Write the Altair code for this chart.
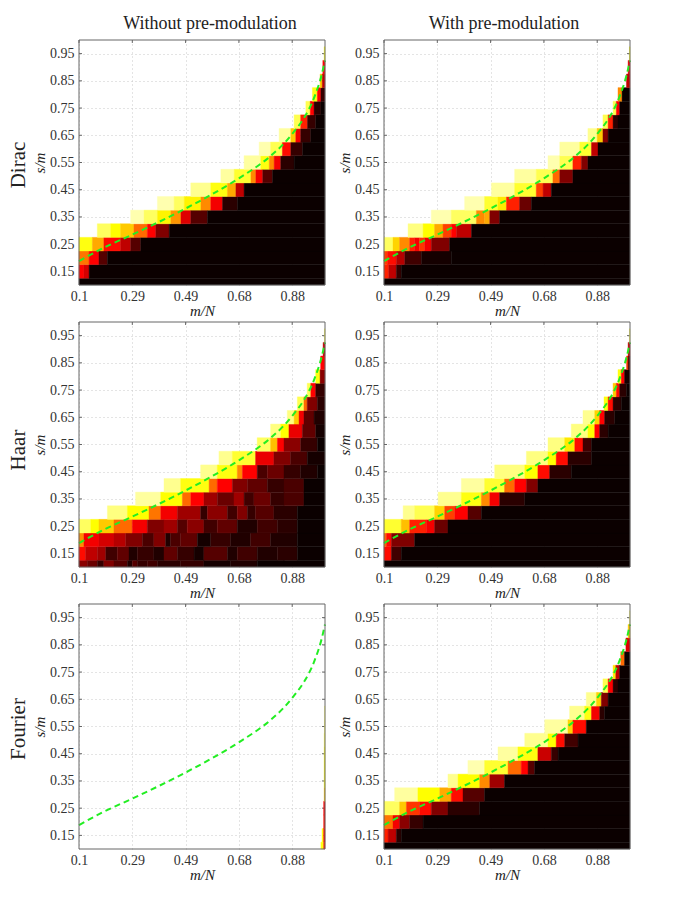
import altair as alt
import pandas as pd

ROW_CENTERS = [0.10, 0.15, 0.20, 0.25, 0.30, 0.35, 0.40, 0.45, 0.50, 0.55,
               0.60, 0.65, 0.70, 0.75, 0.80, 0.85, 0.90, 0.95]
X_TICKS = [0.1, 0.295, 0.49, 0.685, 0.88]
X_LABELS = ["0.1", "0.29", "0.49", "0.68", "0.88"]
Y_TICKS = [0.15, 0.25, 0.35, 0.45, 0.55, 0.65, 0.75, 0.85, 0.95]

CURVE_X = [0.10, 0.191, 0.295, 0.393, 0.490, 0.588, 0.685, 0.801, 0.850, 0.888, 0.924, 0.961, 0.988, 1.0]
CURVE_Y = [0.188, 0.237, 0.285, 0.332, 0.381, 0.434, 0.492, 0.574, 0.620, 0.665, 0.715, 0.790, 0.873, 0.925]

# each row: (start m/N, recovery value) runs, each run lasting until the next
DIRAC_RAW = [
    [(.10, .02)],
    [(.10, .40), (.118, .33), (.137, .03)],
    [(.10, .58), (.137, .40), (.173, .15), (.204, .03)],
    [(.10, .80), (.149, .65), (.191, .42), (.252, .30), (.289, .15), (.326, .03)],
    [(.167, .88), (.216, .78), (.252, .70), (.301, .55), (.350, .40), (.381, .20), (.430, .03)],
    [(.289, .95), (.338, .87), (.387, .76), (.436, .62), (.473, .35), (.509, .15), (.570, .03)],
    [(.387, .95), (.448, .87), (.485, .76), (.546, .60), (.582, .38), (.625, .08), (.680, .02)],
    [(.509, .92), (.582, .80), (.643, .65), (.674, .30), (.704, .03)],
    [(.619, .93), (.668, .83), (.729, .60), (.747, .38), (.772, .15), (.808, .02)],
    [(.704, .93), (.765, .80), (.796, .60), (.814, .38), (.838, .08), (.887, .02)],
    [(.759, .95), (.801, .85), (.844, .42), (.875, .10), (.918, .02)],
    [(.832, .93), (.875, .70), (.893, .38), (.911, .10), (.948, .02)],
    [(.887, .85), (.911, .45), (.936, .10), (.966, .02)],
    [(.930, .85), (.946, .40), (.960, .08), (.985, .02)],
    [(.954, .80), (.972, .40), (.985, .10)],
    [(.982, .70), (.990, .30)],
    [(.992, .40)],
    [(.997, .80)],
]
DIRAC_PRE = [
    [(.10, .02)],
    [(.10, .45), (.117, .30), (.145, .10), (.163, .03)],
    [(.10, .50), (.112, .42), (.145, .28), (.176, .12), (.237, .05), (.346, .03)],
    [(.10, .88), (.133, .72), (.157, .60), (.194, .45), (.212, .38), (.230, .48), (.249, .38), (.273, .20), (.340, .03)],
    [(.188, .90), (.243, .78), (.285, .65), (.316, .50), (.346, .40), (.365, .30), (.420, .03)],
    [(.273, .96), (.346, .87), (.438, .60), (.468, .65), (.487, .20), (.523, .03)],
    [(.395, .96), (.468, .82), (.517, .75), (.548, .45), (.596, .18), (.639, .03)],
    [(.493, .93), (.578, .82), (.657, .50), (.682, .30), (.712, .03)],
    [(.578, .93), (.657, .85), (.718, .55), (.743, .20), (.791, .03)],
    [(.700, .95), (.743, .85), (.791, .45), (.822, .20), (.846, .03)],
    [(.743, .93), (.816, .83), (.859, .30), (.883, .03)],
    [(.846, .92), (.880, .70), (.901, .20), (.920, .03)],
    [(.901, .85), (.920, .45), (.938, .08), (.956, .03)],
    [(.938, .85), (.950, .40), (.962, .04)],
    [(.956, .60), (.971, .04)],
    [(.987, .30)],
    [(.993, .35)],
    [(.998, .80)],
]
HAAR_RAW = [
    [(.10, .22), (.13, .18), (.167, .10), (.191, .20), (.228, .15), (.277, .07), (.295, .14), (.313, .10), (.35, .12), (.387, .08), (.472, .09), (.557, .05), (.655, .07), (.752, .04), (.85, .02)],
    [(.10, .42), (.124, .31), (.167, .25), (.198, .11), (.240, .16), (.283, .07), (.313, .10), (.374, .07), (.411, .16), (.460, .10), (.521, .05), (.557, .14), (.643, .07), (.679, .11), (.752, .06), (.826, .08), (.899, .03)],
    [(.10, .60), (.118, .38), (.173, .34), (.228, .28), (.271, .20), (.332, .13), (.374, .20), (.417, .06), (.435, .13), (.472, .16), (.533, .05), (.582, .10), (.655, .06), (.728, .11), (.801, .07), (.899, .03)],
    [(.10, .88), (.143, .78), (.173, .70), (.228, .55), (.295, .38), (.35, .20), (.411, .25), (.46, .14), (.496, .22), (.557, .11), (.606, .16), (.679, .07), (.752, .12), (.826, .08), (.899, .03)],
    [(.204, .90), (.277, .78), (.356, .58), (.399, .38), (.46, .25), (.545, .09), (.57, .22), (.643, .12), (.679, .20), (.716, .09), (.746, .14), (.813, .08), (.899, .03)],
    [(.307, .93), (.399, .78), (.478, .55), (.509, .40), (.557, .25), (.606, .17), (.667, .25), (.704, .12), (.74, .17), (.801, .09), (.85, .13), (.923, .03)],
    [(.411, .92), (.472, .80), (.576, .55), (.606, .40), (.661, .20), (.716, .16), (.789, .09), (.85, .13), (.923, .04)],
    [(.545, .92), (.606, .80), (.679, .60), (.698, .40), (.752, .13), (.789, .18), (.850, .10), (.911, .07), (.972, .03)],
    [(.612, .92), (.661, .82), (.746, .36), (.813, .20), (.874, .13), (.935, .05)],
    [(.752, .88), (.801, .68), (.826, .40), (.850, .22), (.911, .10), (.972, .04)],
    [(.801, .90), (.838, .78), (.868, .36), (.917, .16), (.966, .05)],
    [(.862, .90), (.887, .70), (.905, .38), (.923, .16), (.960, .07)],
    [(.899, .85), (.923, .55), (.935, .20), (.972, .08)],
    [(.935, .85), (.948, .40), (.966, .10)],
    [(.966, .80), (.982, .22)],
    [(.984, .40)],
    [(.993, .30)],
    [(.998, .85)],
]
HAAR_PRE = [
    [(.10, .02)],
    [(.10, .42), (.127, .12), (.163, .03)],
    [(.10, .55), (.109, .42), (.127, .20), (.212, .03)],
    [(.10, .82), (.163, .68), (.194, .45), (.255, .38), (.285, .18), (.334, .03)],
    [(.170, .92), (.212, .85), (.285, .72), (.322, .50), (.359, .40), (.407, .15), (.456, .03)],
    [(.298, .92), (.383, .80), (.456, .60), (.487, .38), (.523, .08), (.615, .03)],
    [(.383, .93), (.468, .82), (.541, .55), (.578, .40), (.621, .20), (.663, .03)],
    [(.505, .90), (.615, .78), (.663, .42), (.706, .08), (.785, .03)],
    [(.621, .90), (.700, .78), (.730, .42), (.773, .08), (.859, .02)],
    [(.700, .90), (.761, .75), (.798, .42), (.828, .12), (.859, .02)],
    [(.785, .90), (.846, .78), (.871, .40), (.889, .08), (.920, .02)],
    [(.828, .92), (.871, .72), (.889, .40), (.907, .08), (.944, .02)],
    [(.905, .80), (.920, .42), (.938, .08), (.968, .02)],
    [(.938, .70), (.950, .42), (.962, .08), (.987, .02)],
    [(.956, .80), (.968, .40), (.980, .05)],
    [(.987, .50), (.993, .15)],
    [(.993, .30)],
    [(.998, .85)],
]
FOURIER_RAW = [
    [(.985, .80), (.995, .45)],
    [(.989, .80), (.995, .40)],
    [(.995, .42)],
    [(.995, .40)],
    [(.997, .70)],
    [(.997, .78)],
    [(.997, .78)],
    [(.997, .80)],
    [(.997, .85)],
    [(.998, .88)],
    [(.998, .90)],
    [],
    [],
    [],
    [],
    [],
    [],
    [],
]
FOURIER_PRE = [
    [(.10, .02)],
    [(.10, .45), (.115, .30), (.145, .08), (.163, .03)],
    [(.10, .58), (.133, .38), (.157, .22), (.194, .10), (.243, .03)],
    [(.10, .88), (.157, .70), (.182, .48), (.230, .42), (.273, .20), (.334, .08), (.450, .03)],
    [(.139, .94), (.224, .78), (.304, .65), (.346, .42), (.389, .15), (.468, .03)],
    [(.334, .92), (.371, .78), (.450, .60), (.487, .25), (.541, .03)],
    [(.407, .95), (.468, .82), (.554, .55), (.602, .40), (.627, .15), (.651, .03)],
    [(.517, .93), (.590, .80), (.663, .32), (.712, .10), (.737, .02)],
    [(.615, .92), (.700, .78), (.730, .42), (.761, .12), (.810, .02)],
    [(.688, .93), (.773, .72), (.791, .42), (.840, .02)],
    [(.779, .92), (.834, .80), (.859, .38), (.889, .08), (.907, .02)],
    [(.840, .92), (.877, .72), (.895, .20), (.920, .02)],
    [(.901, .85), (.920, .40), (.938, .08), (.956, .02)],
    [(.938, .75), (.948, .30), (.962, .02)],
    [(.966, .55), (.980, .04)],
    [(.985, .35)],
    [(.993, .70)],
    [(.998, .90)],
]

FONT = "Liberation Serif"
W = 246
H = 245
XS = alt.Scale(domain=[0.1, 1.0], nice=False, zero=False)
YS = alt.Scale(domain=[0.1, 1.0], nice=False, zero=False)


def hex2(f):
    return f"{int(round(255 * max(0.0, min(1.0, f)))):02x}"


HOT_COLORS = ["#" + hex2((i + 1) / 24) + hex2((i + 1 - 24) / 24) + hex2((i + 1 - 48) / 16) for i in range(64)]
HOT = alt.Scale(type="quantize", domain=[0.025, 1.04], range=HOT_COLORS)

LABEL_EXPR = "[" + ",".join(f"'{s}'" for s in X_LABELS) + "][round(datum.index*4)]"
XAX = alt.Axis(values=X_TICKS, labelExpr=LABEL_EXPR, title="m/N", titleFontStyle="italic", titleFont=FONT,
               titleFontWeight="normal", titleFontSize=15, titleColor="#222", titlePadding=0,
               labelFont=FONT, labelFontSize=14, labelColor="#333", labelPadding=4, labelFlush=False,
               labelOverlap=False,
               grid=True, gridColor="#c8c8c8", gridDash=[1, 3], gridWidth=1, ticks=False, domain=False)
YAX = alt.Axis(values=Y_TICKS, format=".2f", title="s/m", titleFontStyle="italic", titleFont=FONT,
               titleFontWeight="normal", titleFontSize=15, titleColor="#222", titlePadding=2,
               labelFont=FONT, labelFontSize=14, labelColor="#333", labelPadding=5, labelOverlap=False,
               labelSeparation=0,
               grid=True, gridColor="#c8c8c8", gridDash=[1, 3], gridWidth=1, ticks=False, domain=False)


def cells(rows):
    recs = []
    for c, row in zip(ROW_CENTERS, rows):
        for i, (start, v) in enumerate(row):
            end = row[i + 1][0] if i + 1 < len(row) else 1.0
            recs.append({"x": start, "x2": end, "y": max(0.1, c - 0.025), "y2": c + 0.025, "v": v})
    return pd.DataFrame(recs)


def px(field):
    return alt.X(field, scale=XS, axis=XAX)


def py(field):
    return alt.Y(field, scale=YS, axis=YAX)


def panel(rows, col_title=None, title_dx=0, row_title=None, row_dy=0):
    xt = pd.DataFrame({"t": X_TICKS})
    yt = pd.DataFrame({"t": Y_TICKS})
    layers = [
        alt.Chart(yt.assign(a=0.1, b=0.111)).mark_rule(color="#666", strokeWidth=1).encode(
            x=px("a:Q"), x2="b:Q", y=py("t:Q")),
        alt.Chart(yt.assign(a=0.989, b=1.0)).mark_rule(color="#666", strokeWidth=1).encode(
            x=px("a:Q"), x2="b:Q", y=py("t:Q")),
        alt.Chart(xt.assign(a=0.989, b=1.0)).mark_rule(color="#666", strokeWidth=1).encode(
            x=px("t:Q"), y=py("a:Q"), y2="b:Q"),
    ]
    df = cells(rows)
    layers.append(
        alt.Chart(df).mark_rect(strokeWidth=0.4).encode(
            x=px("x:Q"), x2="x2:Q",
            y=py("y:Q"), y2="y2:Q",
            color=alt.Color("v:Q", scale=HOT, legend=None),
            stroke=alt.Stroke("v:Q", scale=HOT, legend=None),
        )
    )
    layers.append(
        alt.Chart(pd.DataFrame({"x": CURVE_X, "y": CURVE_Y})).mark_line(
            color="#22ee22", strokeWidth=2, strokeDash=[6, 4], interpolate="monotone").encode(
            x=px("x:Q"), y=py("y:Q"))
    )
    layers.append(
        alt.Chart(pd.DataFrame({"x": [0.1], "x2": [1.0], "y": [0.1], "y2": [1.0]})).mark_rect(
            fillOpacity=0, stroke="#666666", strokeWidth=1).encode(
            x=px("x:Q"), x2="x2:Q",
            y=py("y:Q"), y2="y2:Q")
    )
    one = alt.Data(values=[{"a": 1}])
    if col_title:
        layers.append(alt.Chart(one).mark_text(font=FONT, fontSize=18, color="#222", baseline="middle").encode(
            text=alt.value(col_title), x=alt.value(W / 2 + title_dx), y=alt.value(-16)))
    if row_title:
        layers.append(alt.Chart(one).mark_text(font=FONT, fontSize=21, color="#222", angle=270, baseline="middle").encode(
            text=alt.value(row_title), x=alt.value(-60), y=alt.value(row_dy)))
    return alt.layer(*layers).resolve_scale(x="shared", y="shared", color="shared", stroke="shared").properties(width=W, height=H)


chart = alt.concat(
    panel(DIRAC_RAW, "Without pre-modulation", 8, "Dirac", 125), panel(DIRAC_PRE, "With pre-modulation", -3),
    panel(HAAR_RAW, None, 0, "Haar", 128), panel(HAAR_PRE),
    panel(FOURIER_RAW, None, 0, "Fourier", 125), panel(FOURIER_PRE),
    columns=2, spacing={"row": 37, "column": 59}, bounds="flush",
).configure_view(stroke=None).configure_axis(labelOverlap=False).properties(
    background="white", padding={"left": 0, "top": 7, "right": 0, "bottom": 0})
chart.save("out.html", embed_options={"renderer": "svg", "actions": False})
